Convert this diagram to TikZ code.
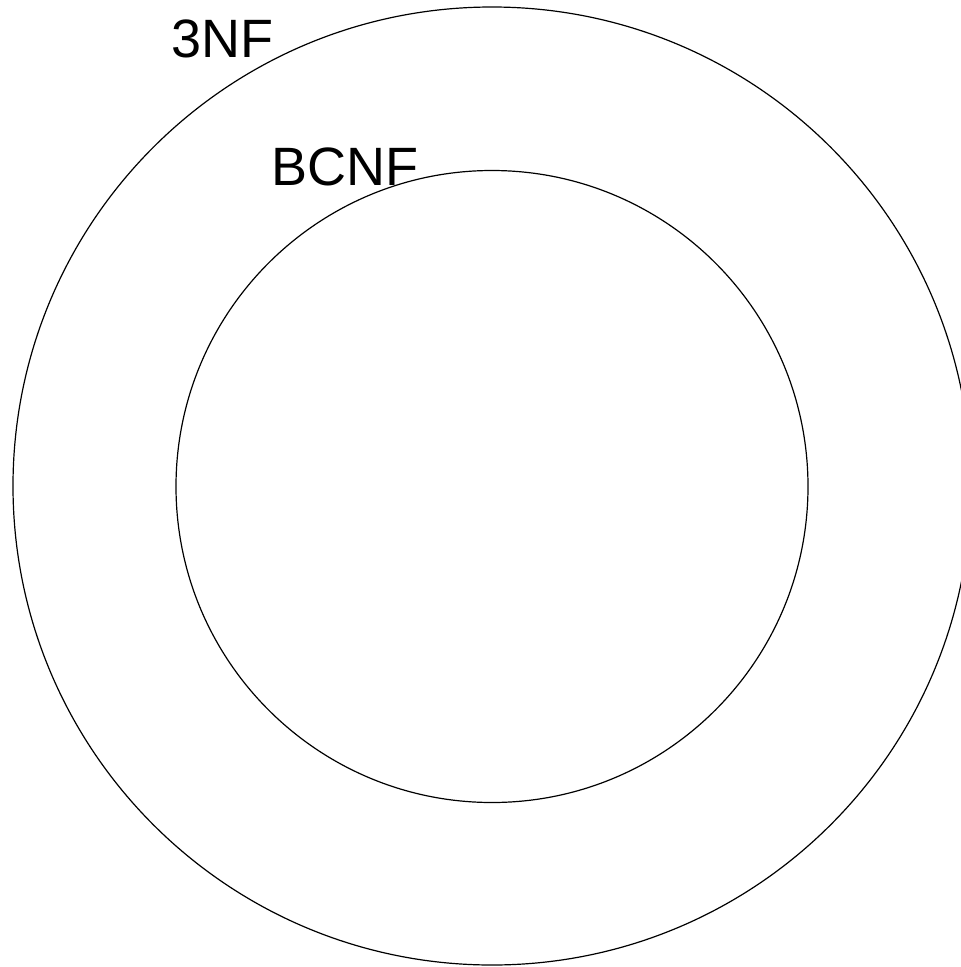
\documentclass[tikz,border=0pt]{standalone}
\usepackage{fontspec}
\setmainfont{Liberation Sans}
\begin{document}
\begin{tikzpicture}[x=1pt,y=-1pt,
  ring/.style={draw=black, line width=1.2pt},
  setlabel/.style={anchor=base west, inner sep=0pt, font=\fontsize{54}{60}\selectfont}]
  \useasboundingbox (0,0) rectangle (961,967);
  \clip (0,0) rectangle (961,967);
  % nested sets: BCNF inside 3NF
  \node[ring, circle, minimum size=958pt, inner sep=0pt] (thirdnf) at (492,486) {};
  \node[ring, circle, minimum size=632pt, inner sep=0pt] (bcnf) at (492,486.5) {};
  \node[setlabel] (lab3nf) at (171,57) {3NF};
  \node[setlabel] (labbcnf) at (271,185) {BCNF};
\end{tikzpicture}
\end{document}
